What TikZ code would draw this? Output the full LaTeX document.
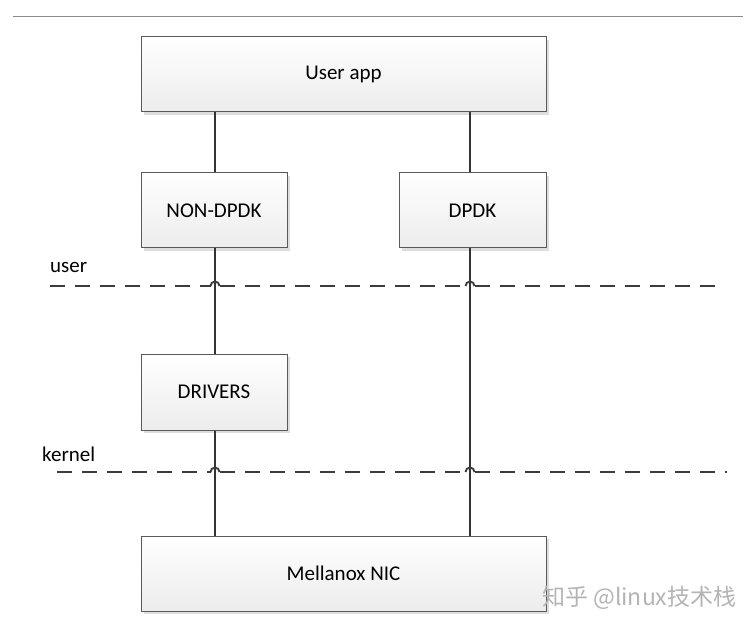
\documentclass[tikz,border=0pt]{standalone}
\usepackage{fontspec}
\setmainfont{Carlito}
\newfontfamily\cjk{Noto Sans CJK SC}
\usetikzlibrary{shadows}
\definecolor{boxline}{HTML}{5A5A5A}
\definecolor{boxbot}{HTML}{ECECEC}
\definecolor{conn}{HTML}{333333}
\definecolor{dashc}{HTML}{3C3C3C}
\definecolor{topline}{HTML}{8A8A8A}
\definecolor{wmark}{HTML}{B4B4B4}
\tikzset{
  box/.style={draw=boxline, line width=1pt, top color=white, bottom color=boxbot,
    drop shadow={shadow xshift=3pt, shadow yshift=-3pt, fill=black, opacity=0.13},
    inner sep=0pt, font=\fontsize{21}{24}\selectfont, text=black},
  conline/.style={draw=conn, line width=1.5pt},
  layerline/.style={draw=dashc, line width=1.9pt, dash pattern=on 15pt off 10pt},
  hop/.style={draw=dashc, line width=1.9pt},
  lbl/.style={anchor=base west, inner sep=0pt, font=\fontsize{21}{24}\selectfont}
}
\begin{document}
\begin{tikzpicture}[x=1pt,y=-1pt]
\useasboundingbox (0,0) rectangle (753,631);
\fill[white] (0,0) rectangle (753,631);
% top rule
\draw[topline, line width=1pt] (13,17) -- (743,17);
% boxes
\node[box, minimum width=405pt, minimum height=75pt] (app) at (343.5,74.5) {User app};
\node[box, minimum width=146pt, minimum height=75pt] (nondpdk) at (214,210.5) {NON-DPDK};
\node[box, minimum width=147pt, minimum height=75pt] (dpdk) at (472.5,210.5) {DPDK};
\node[box, minimum width=146pt, minimum height=76pt] (drivers) at (214,392) {DRIVERS};
\node[box, minimum width=405pt, minimum height=75pt] (nic) at (343.5,573.5) {Mellanox NIC};
% connectors
\draw[conline] ([xshift=1pt]nondpdk.north) -- ([xshift=1pt]nondpdk.north |- app.south);
\draw[conline] ([xshift=1pt]nondpdk.south) -- ([xshift=1pt]drivers.north);
\draw[conline] ([xshift=1pt]drivers.south) -- ([xshift=1pt]drivers.south |- nic.north);
\draw[conline] ([xshift=-2.5pt]dpdk.north) -- ([xshift=-2.5pt]dpdk.north |- app.south);
\draw[conline] ([xshift=-2.5pt]dpdk.south) -- ([xshift=-2.5pt]dpdk.south |- nic.north);
% layer lines
\node[lbl] (userlbl) at (50,273) {user};
\node[lbl] (kernlbl) at (42,461) {kernel};
\coordinate (uA) at (50,286);
\coordinate (uB) at (720,286);
\coordinate (kA) at (57,472);
\coordinate (kB) at (727,472);
\draw[layerline] (uA) -- (210.5,286);
\draw[layerline] (219.5,286) -- (465.5,286);
\draw[layerline] (474.5,286) -- (uB);
\draw[hop] (210.5,286) arc[start angle=180, end angle=0, radius=4.5pt];
\draw[hop] (465.5,286) arc[start angle=180, end angle=0, radius=4.5pt];
\draw[layerline] (kA) -- (210.5,472);
\draw[layerline] (219.5,472) -- (465.5,472);
\draw[layerline] (474.5,472) -- (kB);
\draw[hop] (210.5,472) arc[start angle=180, end angle=0, radius=4.5pt];
\draw[hop] (465.5,472) arc[start angle=180, end angle=0, radius=4.5pt];
% watermark
\node[anchor=west, inner sep=0pt, text=wmark, font=\cjk\fontsize{23}{27}\selectfont] (wm) at (542,598) {知乎 @linux技术栈};
\end{tikzpicture}
\end{document}
